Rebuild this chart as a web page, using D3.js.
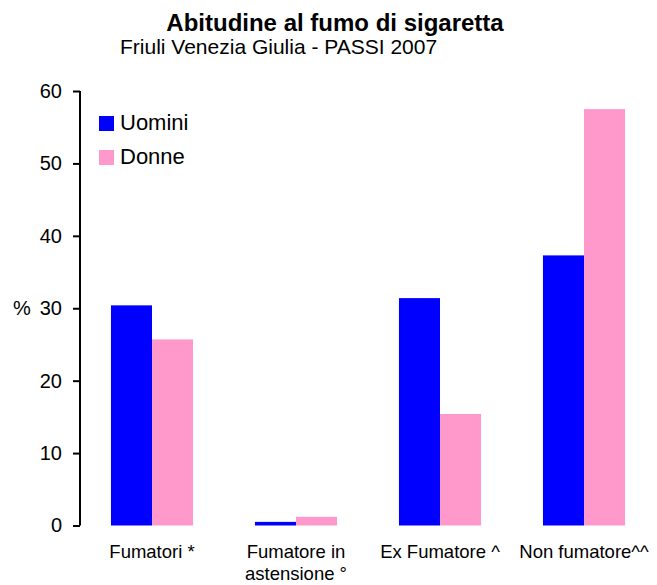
<!DOCTYPE html>
<html>
<head>
<meta charset="utf-8">
<script src="https://cdn.jsdelivr.net/npm/d3@7"></script>
<style>
  body { margin: 0; background: #fff; }
  text { font-family: "Liberation Sans", Arial, sans-serif; fill: #000; }
</style>
</head>
<body>
<svg id="chart" width="657" height="585"></svg>
<script>
// Chart data
const categories = [["Fumatori *"], ["Fumatore in", "astensione °"], ["Ex Fumatore ^"], ["Non fumatore^^"]];
const seriesNames = ["Uomini", "Donne"];
const uomini = [30.4, 0.5, 31.4, 37.3];
const donne = [25.7, 1.2, 15.4, 57.5];
const yTicks = [0, 10, 20, 30, 40, 50, 60];

const colors = ["#0000ff", "#ff99cc"];

const svg = d3.select("#chart");

// plot area
const plotLeft = 80, plotRight = 656, plotTop = 91, plotBottom = 525.5;

const x0 = d3.scaleBand()
    .domain(d3.range(categories.length))
    .range([plotLeft, plotRight])
    .paddingInner(0.43)
    .paddingOuter(0.215);

const x1 = d3.scaleBand()
    .domain(seriesNames)
    .range([0, x0.bandwidth()]);

const y = d3.scaleLinear()
    .domain([0, 60])
    .range([plotBottom, plotTop]);

// Title
svg.append("text")
    .attr("x", 335).attr("y", 31)
    .attr("text-anchor", "middle")
    .style("font-size", "24px")
    .style("font-weight", "bold")
    .text("Abitudine al fumo di sigaretta");

svg.append("text")
    .attr("x", 120).attr("y", 54)
    .style("font-size", "21px")
    .text("Friuli Venezia Giulia - PASSI 2007");

// Bars
const rows = categories.map((c, i) => ({ i, values: [uomini[i], donne[i]] }));

const groups = svg.append("g")
    .selectAll("g")
    .data(rows)
    .join("g")
    .attr("transform", d => `translate(${x0(d.i)},0)`);

groups.selectAll("rect")
    .data(d => d.values.map((v, k) => ({ key: seriesNames[k], v, k })))
    .join("rect")
    .attr("x", d => x1(d.key))
    .attr("y", d => y(d.v))
    .attr("width", x1.bandwidth())
    .attr("height", d => y(0) - y(d.v))
    .attr("fill", d => colors[d.k]);

// Y axis
const yAxis = svg.append("g")
    .attr("transform", `translate(${plotLeft},0)`)
    .call(d3.axisLeft(y).tickValues(yTicks).tickSize(7).tickPadding(11));

yAxis.select(".domain").attr("stroke", "#000").attr("stroke-width", 2)
    .attr("d", `M0,${plotTop}V${plotBottom}`);
yAxis.selectAll(".tick line").attr("stroke", "#000").attr("stroke-width", 2);
yAxis.selectAll(".tick text")
    .style("font-size", "20px")
    .style("font-family", "'Liberation Sans', Arial, sans-serif")
    .attr("fill", "#000");

svg.append("text")
    .attr("x", 13).attr("y", y(30))
    .attr("dy", "0.32em")
    .style("font-size", "20px")
    .text("%");

// X labels
const xl = svg.append("g")
    .selectAll("text")
    .data(categories)
    .join("text")
    .attr("text-anchor", "middle")
    .attr("x", (d, i) => x0(i) + x0.bandwidth() / 2)
    .attr("y", 558)
    .style("font-size", "18.5px");

xl.selectAll("tspan")
    .data(d => d)
    .join("tspan")
    .attr("x", function () { return d3.select(this.parentNode).attr("x"); })
    .attr("dy", (d, i) => i === 0 ? 0 : 22)
    .text(d => d);

// Legend
const legend = svg.append("g")
    .selectAll("g")
    .data(seriesNames)
    .join("g")
    .attr("transform", (d, i) => `translate(99,${116 + i * 34})`);

legend.append("rect")
    .attr("width", 15).attr("height", 15)
    .attr("fill", (d, i) => colors[i]);

legend.append("text")
    .attr("x", 21).attr("y", 14)
    .style("font-size", "22px")
    .text(d => d);
</script>
</body>
</html>
